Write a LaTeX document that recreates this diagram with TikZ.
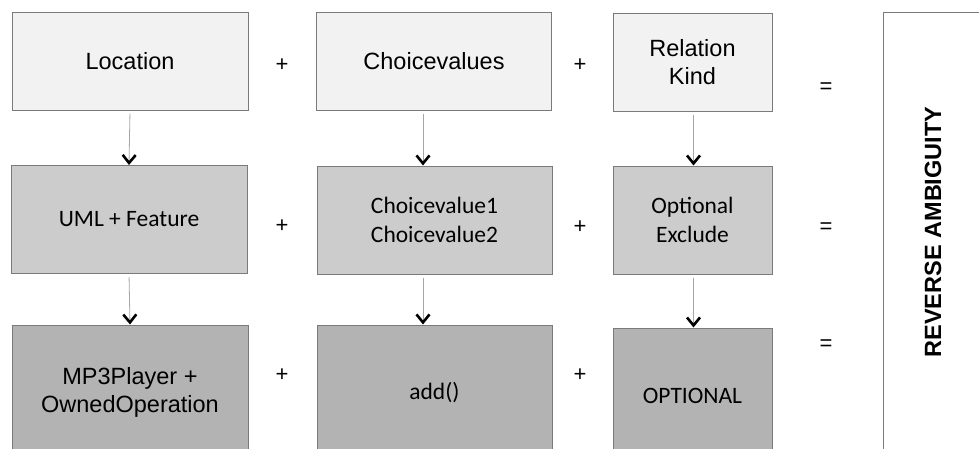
\documentclass[tikz,border=0pt]{standalone}
\usepackage{fontspec}
\setmainfont{Liberation Sans}
\newfontfamily\calfont{Carlito}
\usetikzlibrary{arrows.meta}
\definecolor{edgegray}{HTML}{7A7A7A}
\definecolor{lightfill}{HTML}{F2F2F2}
\definecolor{midfill}{HTML}{CCCCCC}
\definecolor{darkfill}{HTML}{B3B3B3}
\begin{document}
\begin{tikzpicture}[x=1pt,y=-1pt,
  box/.style={draw=edgegray, line width=1pt, align=center, inner sep=0pt,
    font=\fontsize{23.5}{28.5}\selectfont},
  toprow/.style={box, fill=lightfill, minimum height=98pt},
  midrow/.style={box, fill=midfill, minimum height=108pt, font=\calfont\fontsize{23.5}{28.5}\selectfont},
  lowrow/.style={box, fill=darkfill, minimum height=135pt},
  wideA/.style={minimum width=236pt},
  wideB/.style={minimum width=235pt},
  narrowC/.style={minimum width=159pt},
  sign/.style={font=\fontsize{22}{26}\selectfont, inner sep=0pt},
  flow/.style={draw=gray!70, line width=0.8pt, shorten <=3pt,
    -{Straight Barb[length=8pt,width=13pt,line width=2.6pt,color=black]}}
]
\useasboundingbox (0,0) rectangle (979,448);
\clip (0,0) rectangle (979,448);

% first row: the three inputs
\node[toprow, wideA] (loc) at (130,61) {Location};
\node[toprow, wideB] (cv) at (434,61) {Choicevalues};
\node[toprow, narrowC] (rk) at (692.5,62) {Relation\\Kind};

% second row
\node[midrow, wideA] (uml) at (129,219.5) {UML + Feature};
\node[midrow, wideB] (cvs) at (434.5,220) {Choicevalue1\\Choicevalue2};
\node[midrow, narrowC] (opt) at (692.5,220) {Optional\\Exclude};

% third row
\node[lowrow, wideA] (mp3) at (130,392.5) {MP3Player +\\OwnedOperation};
\node[lowrow, wideB, font=\calfont\fontsize{23.5}{28.5}\selectfont] (add) at (434.5,392.5) {add()};
\node[lowrow, narrowC, font=\calfont\fontsize{23.5}{28.5}\selectfont] (optu) at (692.5,395.5) {OPTIONAL};

% result panel
\node[draw=edgegray, line width=1pt, fill=white, minimum width=140pt, minimum height=480pt,
  anchor=north west, inner sep=0pt] (panel) at (883,12) {};
\node[rotate=90, font=\bfseries\fontsize{23.5}{28}\selectfont] (rev) at (933,232) {REVERSE AMBIGUITY};

% operators between the columns
\node[sign] (p11) at (282,65) {+};
\node[sign] (p12) at (580,65) {+};
\node[sign] (p21) at (282,226) {+};
\node[sign] (p22) at (580,227) {+};
\node[sign] (p31) at (282,375) {+};
\node[sign] (p32) at (580,375) {+};
\node[sign] (e1) at (826,88) {=};
\node[sign] (e2) at (826,228) {=};
\node[sign] (e3) at (826,345) {=};

% refinement arrows
\draw[flow] (loc.south) -- (uml.north);
\draw[flow] (uml.south) -- (mp3.north);
\draw[flow] ([xshift=-11pt]cv.south) -- ([xshift=-11.5pt]cvs.north);
\draw[flow] ([xshift=-11.5pt]cvs.south) -- ([xshift=-11.5pt]add.north);
\draw[flow] ([xshift=1pt]rk.south) -- ([xshift=1pt]opt.north);
\draw[flow] ([xshift=1pt]opt.south) -- ([xshift=1pt]optu.north);
\end{tikzpicture}
\end{document}
